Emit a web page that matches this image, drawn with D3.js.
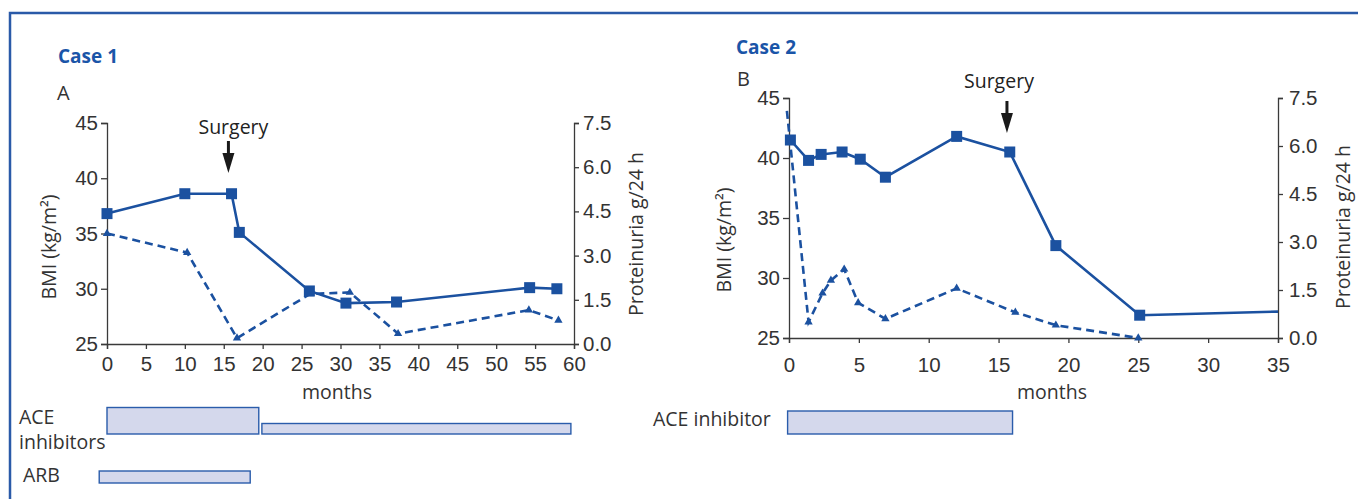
<!DOCTYPE html>
<html><head><meta charset="utf-8">
<script src="https://cdn.jsdelivr.net/npm/d3@7"></script>
<style>
html,body{margin:0;padding:0;background:#fff;}
svg{display:block;font-family:"Open Sans","Noto Sans",sans-serif;}
</style></head>
<body>
<svg id="c" width="1358" height="499"></svg>
<script>
// ---------- DATA ----------
const case1Months = [0, 10, 16, 17, 26, 30.7, 37.2, 54.3, 57.8];
const case1BMI    = [36.8, 38.6, 38.6, 35.1, 29.8, 28.7, 28.8, 30.1, 30.0];
const case1ProtMonths = [0, 10.3, 16.7, 26.1, 31.2, 37.4, 54.2, 58.0];
const case1Prot       = [3.75, 3.1, 0.2, 1.7, 1.75, 0.35, 1.15, 0.8];

const case2Months = [0.1, 1.4, 2.3, 3.8, 5.1, 6.9, 12, 15.8, 19.1, 25.1, 35];
const case2BMI    = [41.5, 39.8, 40.3, 40.5, 39.9, 38.4, 41.8, 40.5, 32.7, 26.9, 27.2];
const case2ProtMonths = [-0.15, 1.4, 2.4, 3.0, 3.95, 4.95, 6.9, 12, 16.2, 19.1, 25];
const case2Prot       = [7.1, 0.5, 1.4, 1.8, 2.15, 1.1, 0.6, 1.55, 0.8, 0.4, 0.0];

const bmiTicks  = [25, 30, 35, 40, 45];
const protTicks = [0, 1.5, 3.0, 4.5, 6.0, 7.5];
const case1XTicks = [0, 5, 10, 15, 20, 25, 30, 35, 40, 45, 50, 55, 60];
const case2XTicks = [0, 5, 10, 15, 20, 25, 30, 35];

const surgery1 = 15.6, surgery2 = 15.6;
// treatment periods [start, end] in months
const case1ACE = [[0, 19.5], [19.9, 59.6]];
const case1ARB = [[-1, 18.4]];
const case2ACE = [[-0.1, 16]];

// ---------- STYLE ----------
const BLUE = "#1b51a0", AX = "#3a3a3a", TXT = "#333", FILL = "#d4d8ec", BSTROKE = "#2a5cab";
const LBL = "19.5px";
const svg = d3.select("#c");

// frame
svg.append("path").attr("d", "M10,499V13H1358").attr("fill", "none")
  .attr("stroke", "#2a5aa8").attr("stroke-width", 2.5);

function panel(o) {
  const g = svg.append("g");
  const x = d3.scaleLinear().domain(o.xDomain).range(o.xRange);
  const yL = d3.scaleLinear().domain([25, 45]).range(o.yRange);
  const yR = d3.scaleLinear().domain([0, 7.5]).range(o.yRange);
  const y0 = o.yRange[0];

  const styleAxis = (sel) => {
    sel.selectAll("path").attr("stroke", AX).attr("stroke-width", 1.3);
    sel.selectAll("line").attr("stroke", AX).attr("stroke-width", 1.3);
    sel.selectAll("text").attr("fill", TXT).style("font-size", "20.5px")
      .style("font-family", '"Liberation Sans",Arial,sans-serif');
  };
  g.append("g").attr("transform", `translate(0,${y0})`)
    .call(d3.axisBottom(x).tickValues(o.xTicks).tickFormat(d3.format("d")).tickSizeOuter(0).tickSize(5).tickPadding(o.xPad))
    .call(styleAxis);
  g.append("g").attr("transform", `translate(${o.xRange[0]},0)`)
    .call(d3.axisLeft(yL).tickValues(bmiTicks).tickFormat(d3.format("d")).tickSizeOuter(0).tickSize(6).tickPadding(3))
    .call(styleAxis);
  g.append("g").attr("transform", `translate(${o.xRange[1]},0)`)
    .call(d3.axisRight(yR).tickValues(protTicks).tickFormat(d3.format(".1f")).tickSizeOuter(0).tickSize(5).tickPadding(o.rPad))
    .call(styleAxis);

  // lines
  const bmi = o.bmiM.map((m, i) => ({m, v: o.bmi[i]}));
  const prot = o.protM.map((m, i) => ({m, v: o.prot[i]}));
  g.append("path").datum(prot).attr("fill", "none").attr("stroke", BLUE).attr("stroke-width", 2.6)
    .attr("stroke-dasharray", "8,5")
    .attr("d", d3.line().x(d => x(d.m)).y(d => yR(d.v)));
  g.append("path").datum(bmi).attr("fill", "none").attr("stroke", BLUE).attr("stroke-width", 2.6)
    .attr("d", d3.line().x(d => x(d.m)).y(d => yL(d.v)));

  const inDom = d => d.m >= 0 && d.m < o.xDomain[1];
  g.selectAll(".tri").data(prot.filter(inDom)).join("path")
    .attr("transform", d => `translate(${x(d.m)},${yR(d.v)})`)
    .attr("d", d3.symbol(d3.symbolTriangle, 30)).attr("fill", BLUE);
  g.selectAll(".sq").data(bmi.filter(inDom)).join("rect")
    .attr("x", d => x(d.m) - 5.5).attr("y", d => yL(d.v) - 5.5)
    .attr("width", 11).attr("height", 11).attr("fill", BLUE);

  // titles
  g.append("text").attr("x", o.titleX).attr("y", o.titleY).text(o.title)
    .attr("fill", "#1a55a8").style("font-size", "19px").style("font-weight", "700");
  g.append("text").attr("x", o.letterX).attr("y", o.letterY).text(o.letter)
    .attr("fill", TXT).style("font-size", "20px");

  // axis titles
  g.append("text").attr("transform", `translate(${o.bmiLabelX},${o.bmiLabelY}) rotate(-90)`)
    .attr("text-anchor", "middle").attr("fill", TXT).style("font-size", LBL).text("BMI (kg/m²)");
  g.append("text").attr("transform", `translate(${o.protLabelX},${o.protLabelY}) rotate(-90)`)
    .attr("text-anchor", "middle").attr("fill", TXT).style("font-size", LBL).text("Proteinuria g/24 h");
  g.append("text").attr("x", o.monthsX).attr("y", 399).attr("text-anchor", "middle")
    .attr("fill", TXT).style("font-size", LBL).text("months");

  // surgery
  const sx = x(o.surgery);
  g.append("text").attr("x", sx + o.surgTextDx).attr("y", o.surgTextY).attr("text-anchor", "middle")
    .attr("fill", "#222").style("font-size", LBL).text("Surgery");
  g.append("line").attr("x1", sx).attr("x2", sx).attr("y1", o.arrowTop).attr("y2", o.arrowTip - 14)
    .attr("stroke", "#1a1a1a").attr("stroke-width", 3);
  g.append("path").attr("d", `M${sx - 6},${o.arrowTip - 20}L${sx + 6},${o.arrowTip - 20}L${sx},${o.arrowTip}Z`)
    .attr("fill", "#1a1a1a");
  return {x};
}

const p1 = panel({
  xDomain: [0, 60], xRange: [107, 574], yRange: [344, 123], xTicks: case1XTicks, xPad: 7, rPad: 4,
  bmiM: case1Months, bmi: case1BMI, protM: case1ProtMonths, prot: case1Prot,
  title: "Case 1", titleX: 58, titleY: 63, letter: "A", letterX: 57, letterY: 100,
  bmiLabelX: 56, bmiLabelY: 247, protLabelX: 643, protLabelY: 234, monthsX: 337,
  surgery: surgery1, surgTextDx: 5, surgTextY: 134, arrowTop: 141, arrowTip: 173
});
const p2 = panel({
  xDomain: [0, 35], xRange: [789, 1278], yRange: [338, 98], xTicks: case2XTicks, xPad: 14, rPad: 6,
  bmiM: case2Months, bmi: case2BMI, protM: case2ProtMonths, prot: case2Prot,
  title: "Case 2", titleX: 736, titleY: 54, letter: "B", letterX: 737, letterY: 86,
  bmiLabelX: 731, bmiLabelY: 240, protLabelX: 1350, protLabelY: 227, monthsX: 1052,
  surgery: surgery2, surgTextDx: -8, surgTextY: 88, arrowTop: 101, arrowTip: 133
});

// treatment bars
function bars(x, periods, top, bottom) {
  svg.append("g").selectAll("rect").data(periods).join("rect")
    .attr("x", d => x(d[0])).attr("width", d => x(d[1]) - x(d[0]))
    .attr("y", top).attr("height", bottom - top)
    .attr("fill", FILL).attr("stroke", BSTROKE).attr("stroke-width", 1.4);
}
bars(p1.x, [case1ACE[0]], 407.5, 434);
bars(p1.x, [case1ACE[1]], 423.5, 434);
bars(p1.x, case1ARB, 471, 483);
bars(p2.x, case2ACE, 411, 434);

const lab = (x, y, t) => svg.append("text").attr("x", x).attr("y", y).attr("fill", TXT)
  .style("font-size", LBL).text(t);
lab(19, 424, "ACE");
lab(19, 449, "inhibitors");
lab(23, 482, "ARB");
lab(653, 426, "ACE inhibitor");
</script>
</body></html>
